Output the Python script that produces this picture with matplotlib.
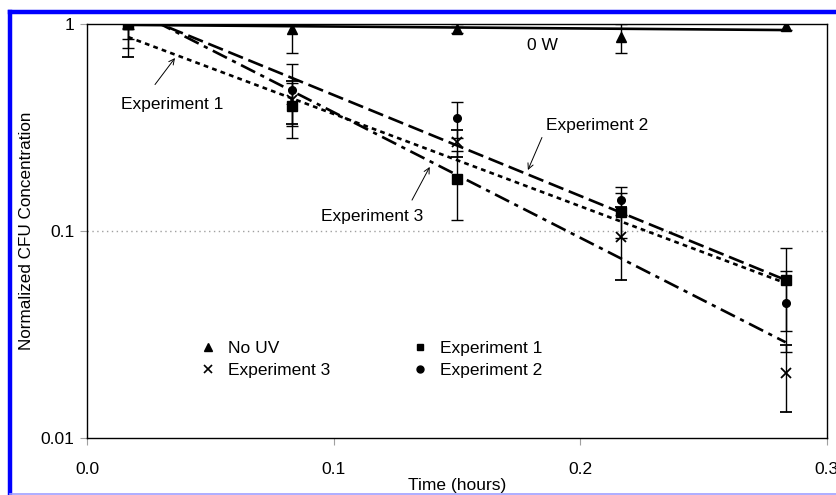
import numpy as np
import matplotlib
matplotlib.use('Agg')
import matplotlib.pyplot as plt
from matplotlib.lines import Line2D

plt.rcParams['font.family'] = ['Liberation Sans', 'DejaVu Sans']

# sampling times (hours)
t = [0.0167, 0.0833, 0.15, 0.2167, 0.2833]

# measured normalized CFU concentration and error bars
no_uv = [1.0, 0.946, 0.95, 0.865, 0.975]
no_uv_err = [0.05, 0.22, 0.05, 0.14, 0.04]
exp1 = [1.0, 0.40, 0.178, 0.123, 0.058]
exp1_err = [0.23, 0.12, 0.065, 0.03, 0.025]
exp2 = [1.0, 0.48, 0.351, 0.141, 0.045]
exp2_err = [0.15, 0.16, 0.07, 0.022, 0.019]
exp3 = [1.0, 0.43, 0.269, 0.094, 0.0207]
exp3_err = [0.31, 0.10, 0.04, 0.036, 0.0073]

# fitted exponential lines (end points)
fit_t = [0.0167, 0.2833]
fit_no_uv = [0.99, 0.935]
fit_exp1 = [0.865, 0.056]
fit_exp2 = [1.157, 0.058]
fit_exp3 = [1.20, 0.029]

fig = plt.figure(figsize=(8.36, 4.95), dpi=100)
ax = fig.add_axes([0.104, 0.1152, 0.885, 0.8363])

ax.set_yscale('log')
ax.set_xlim(0, 0.3)
ax.set_ylim(0.01, 1)

ax.axhline(0.1, color='#a0a0a0', lw=1, ls=(0, (1, 2.5)), zorder=1)

lw = 1.9
ax.plot(fit_t, fit_no_uv, color='black', lw=lw, zorder=3)
ax.plot(fit_t, fit_exp1, color='black', lw=lw, dashes=(1.8, 1.6), zorder=3)
ax.plot(fit_t, fit_exp2, color='black', lw=lw, dashes=(6, 2.2), zorder=3)
ax.plot(fit_t, fit_exp3, color='black', lw=lw, dashes=(6, 2.2, 1.6, 2.2), zorder=3)

ekw = dict(color='black', ecolor='black', elinewidth=1, capsize=4, capthick=1,
           ls='none', clip_on=True)
ax.errorbar(t, no_uv, yerr=no_uv_err, marker='^', ms=7, zorder=4, **ekw)
ax.errorbar(t, exp3, yerr=exp3_err, marker='x', ms=7, mew=1.3, zorder=5, **ekw)
ax.errorbar(t, exp2, yerr=exp2_err, marker='o', ms=5.5, zorder=5, **ekw)
ax.errorbar(t, exp1, yerr=exp1_err, marker='s', ms=6.5, zorder=6, **ekw)

ax.set_xticks([0.0, 0.1, 0.2, 0.3])
ax.set_xticklabels(['0.0', '0.1', '0.2', '0.3'])
ax.set_yticks([0.01, 0.1, 1])
ax.set_yticklabels(['0.01', '0.1', '1'])
ax.yaxis.set_minor_locator(matplotlib.ticker.NullLocator())
ax.tick_params(axis='x', direction='out', length=5, width=0.8, color='#a0a0a0',
               labelsize=12.5, pad=12)
ax.tick_params(axis='y', direction='out', length=5, width=0.8, color='#a0a0a0',
               labelsize=12.5, pad=4)
for s in ax.spines.values():
    s.set_linewidth(1)
ax.set_xlabel('Time (hours)', fontsize=12.5, labelpad=1)
ax.set_ylabel('Normalized CFU Concentration', fontsize=12.3, labelpad=5)

# legend
handles = [
    Line2D([], [], color='black', marker='^', ls='none', ms=6),
    Line2D([], [], color='black', marker='x', ls='none', ms=6, mew=1.2),
    Line2D([], [], color='black', marker='s', ls='none', ms=5),
    Line2D([], [], color='black', marker='o', ls='none', ms=5),
]
labels = ['No UV', 'Experiment 3', 'Experiment 1', 'Experiment 2']
ax.legend(handles, labels, ncol=2, frameon=False, fontsize=12.5,
          loc='upper left', bbox_to_anchor=(0.13, 0.272),
          columnspacing=4.6, handletextpad=0.6, labelspacing=0.4,
          handlelength=1.1)

# annotations
tkw = dict(fontsize=12.5, ha='center', va='center')
akw = dict(arrowstyle='->', color='black', lw=0.7, shrinkA=0, shrinkB=0)
ax.text(0.0345, 0.41, 'Experiment 1', **tkw)
ax.annotate('', xy=(0.0357, 0.685), xytext=(0.0276, 0.51), arrowprops=akw)
ax.text(0.2068, 0.325, 'Experiment 2', **tkw)
ax.annotate('', xy=(0.1788, 0.197), xytext=(0.1845, 0.283), arrowprops=akw)
ax.text(0.1155, 0.118, 'Experiment 3', **tkw)
ax.annotate('', xy=(0.139, 0.204), xytext=(0.1318, 0.141), arrowprops=akw)
ax.text(0.1845, 0.79, '0 W', **tkw)

# blue frame around the figure
fig.add_artist(Line2D([10 / 836, 1], [1 - 12 / 495, 1 - 12 / 495], color='#0000ff',
                      lw=3.2, transform=fig.transFigure))
fig.add_artist(Line2D([10 / 836, 10 / 836], [0, 1 - 12 / 495], color='#0000ff',
                      lw=3.2, transform=fig.transFigure))
fig.add_artist(Line2D([10 / 836, 1], [1.5 / 495, 1.5 / 495], color='#a0a0ff',
                      lw=1.2, transform=fig.transFigure))

fig.savefig('out.png', dpi=100)
